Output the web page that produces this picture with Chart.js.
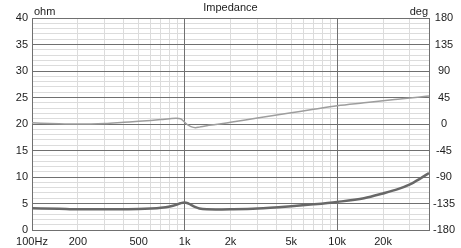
<!DOCTYPE html>
<html>
<head>
<meta charset="utf-8">
<script src="https://cdn.jsdelivr.net/npm/chart.js@4.4.1/dist/chart.umd.min.js"></script>
<style>
html, body { margin: 0; padding: 0; background: #fff; }
</style>
</head>
<body>
<canvas id="chart" width="461" height="248"></canvas>
<script>
var freqHz = [100, 150, 200, 300, 400, 500, 600, 700, 800, 880, 940, 1000, 1050, 1100, 1180, 1250, 1400, 1600, 2000, 3000, 5000, 7000, 10000, 15000, 20000, 25000, 30000, 35000, 40000];
var impedanceOhm = [4.1, 4.0, 3.9, 3.9, 3.92, 3.95, 4.05, 4.2, 4.45, 4.75, 5.05, 5.2, 5.05, 4.75, 4.3, 4.05, 3.9, 3.88, 3.92, 4.07, 4.5, 4.85, 5.3, 6.0, 6.9, 7.7, 8.6, 9.7, 10.75];
var phaseDeg = [2, 0.5, 0, 1, 3, 4.5, 6, 7.5, 9, 9.8, 9, 3, -1.5, -4.5, -6.3, -5.3, -3, -1, 3, 10, 19, 25, 31, 36, 39.5, 42, 44, 46, 47.5];

var xGridValues = [100, 200, 300, 400, 500, 600, 700, 800, 900,
    1000, 2000, 3000, 4000, 5000, 6000, 7000, 8000, 9000,
    10000, 20000, 30000, 40000];
var xMajorValues = [1000, 10000];
var xTickLabels = { 100: '100Hz', 200: '200', 500: '500', 1000: '1k', 2000: '2k', 5000: '5k', 10000: '10k', 20000: '20k' };
var ohmTicks = [];
for (var i = 0; i <= 40; i++) ohmTicks.push(i);
var ohmMajorValues = [5, 10, 15, 20, 25, 30, 35];
var degTicks = [-180, -135, -90, -45, 0, 45, 90, 135, 180];

var majorGrid = '#707070';
var minorGrid = '#dcdcdc';
var textColor = '#1c1c1c';

Chart.defaults.font.family = '"Liberation Sans", Arial, sans-serif';
Chart.defaults.font.size = 11;
Chart.defaults.color = textColor;

function points(ys) {
    return freqHz.map(function(f, i) { return { x: f, y: ys[i] }; });
}

// same rounding chart.js uses for 1px grid lines
function crisp(p) {
    return Math.round(p - 0.5) + 0.5;
}

// darker decade / 5 ohm lines go over the light ones, as in the original
var majorLines = {
    id: 'majorLines',
    beforeDatasetsDraw: function(chart) {
        var c = chart.ctx;
        var a = chart.chartArea;
        var xs = chart.scales.x, ys = chart.scales.y;
        c.save();
        c.strokeStyle = majorGrid;
        c.lineWidth = 1;
        c.beginPath();
        xMajorValues.forEach(function(v) {
            var p = crisp(xs.getPixelForValue(v));
            c.moveTo(p, a.top);
            c.lineTo(p, a.bottom);
        });
        ohmMajorValues.forEach(function(v) {
            var p = crisp(ys.getPixelForValue(v));
            c.moveTo(a.left, p);
            c.lineTo(a.right, p);
        });
        c.stroke();
        c.restore();
    }
};

var headerText = {
    id: 'headerText',
    afterDraw: function(chart) {
        var c = chart.ctx;
        var a = chart.chartArea;
        c.save();
        c.fillStyle = textColor;
        c.font = '11px "Liberation Sans", Arial, sans-serif';
        c.textBaseline = 'alphabetic';
        c.textAlign = 'center';
        c.fillText('Impedance', (a.left + a.right) / 2, 11);
        c.textAlign = 'left';
        c.fillText('ohm', a.left + 2, 15);
        c.textAlign = 'right';
        c.fillText('deg', a.right - 1, 15);
        c.restore();
    }
};

var ctx = document.getElementById('chart');
new Chart(ctx, {
    type: 'line',
    data: {
        datasets: [
            {
                label: 'Phase',
                data: points(phaseDeg),
                yAxisID: 'y2',
                borderColor: '#9e9e9e',
                borderWidth: 1.5,
                pointRadius: 0,
                cubicInterpolationMode: 'monotone'
            },
            {
                label: 'Impedance',
                data: points(impedanceOhm),
                yAxisID: 'y',
                borderColor: '#686868',
                borderWidth: 2.5,
                pointRadius: 0,
                cubicInterpolationMode: 'monotone'
            }
        ]
    },
    options: {
        responsive: false,
        animation: false,
        layout: { padding: { top: 18, left: 0, right: 0, bottom: 0 } },
        plugins: {
            legend: { display: false },
            tooltip: { enabled: false }
        },
        scales: {
            x: {
                type: 'logarithmic',
                min: 100,
                max: 40000,
                afterBuildTicks: function(s) {
                    s.ticks = xGridValues.map(function(v) { return { value: v }; });
                },
                afterFit: function(s) { s.height = 18; },
                grid: {
                    color: function(c) {
                        var v = c.tick ? c.tick.value : 0;
                        return (v === 100 || v === 1000 || v === 10000) ? majorGrid : minorGrid;
                    },
                    drawTicks: false
                },
                border: { color: majorGrid },
                ticks: {
                    autoSkip: false,
                    maxRotation: 0,
                    padding: 5,
                    callback: function(v) { return xTickLabels[v] || ''; }
                }
            },
            y: {
                position: 'left',
                min: 0,
                max: 40,
                afterBuildTicks: function(s) {
                    s.ticks = ohmTicks.map(function(v) { return { value: v }; });
                },
                afterFit: function(s) { s.width = 32; },
                grid: {
                    color: function(c) {
                        var v = c.tick ? c.tick.value : 0;
                        return v % 5 === 0 ? majorGrid : minorGrid;
                    },
                    drawTicks: false
                },
                border: { color: majorGrid },
                ticks: {
                    autoSkip: false,
                    padding: 4,
                    callback: function(v) { return v % 5 === 0 ? v : ''; }
                }
            },
            y2: {
                position: 'right',
                min: -180,
                max: 180,
                afterBuildTicks: function(s) {
                    s.ticks = degTicks.map(function(v) { return { value: v }; });
                },
                afterFit: function(s) { s.width = 32; },
                grid: { display: false, drawTicks: false },
                border: { color: majorGrid },
                ticks: {
                    autoSkip: false,
                    padding: 4,
                    crossAlign: 'center',
                    callback: function(v) { return v; }
                }
            }
        }
    },
    plugins: [majorLines, headerText]
});
</script>
</body>
</html>
